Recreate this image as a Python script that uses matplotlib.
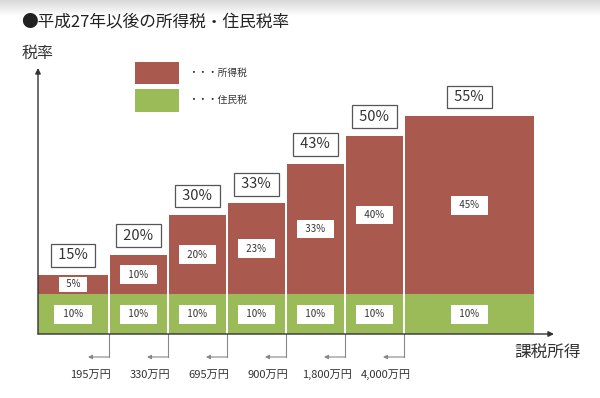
import matplotlib
matplotlib.use('Agg')
import matplotlib.pyplot as plt
from matplotlib.patches import Rectangle
import numpy as np

plt.rcParams['font.family'] = ['Noto Sans CJK JP', 'DejaVu Sans']

# ---- data ----
title = "●平成27年以後の所得税・住民税率"
y_label = "税率"
x_label = "課税所得"
series_names = ["所得税", "住民税"]
income_limits = ["195万円", "330万円", "695万円", "900万円", "1,800万円", "4,000万円"]
income_tax = [5, 10, 20, 23, 33, 40, 45]
resident_tax = [10, 10, 10, 10, 10, 10, 10]

RED = '#A9594D'
GREEN = '#9BBB59'
TXT = '#333333'

W, H = 600, 398
fig = plt.figure(figsize=(6, 3.98), dpi=100)


def fx(px):
    return px / W


def fy(py):
    return 1 - py / H


# header gradient
gax = fig.add_axes([0, fy(16), 1, 16 / H])
grad = np.linspace(0.85, 1.0, 64).reshape(-1, 1)
gax.imshow(np.dstack([grad] * 3), aspect='auto', extent=[0, 1, 0, 1], origin='upper')
gax.axis('off')

# main axes
unit_px = 59.0
pct_px = 3.965
ax = fig.add_axes([fx(38), fy(334), (554 - 38) / W, (334 - 68) / H])
ax.set_xlim(0, (554 - 38) / unit_px)
ax.set_ylim(0, (334 - 68) / pct_px)
ax.axis('off')

widths = np.array([1.22, 1, 1, 1, 1, 1, 2.22])
lefts = np.concatenate([[0], np.cumsum(widths)[:-1]])
gap = 0.035
centers = lefts + (widths - gap) / 2

ax.bar(lefts, resident_tax, width=widths - gap, align='edge', color=GREEN, lw=0)
ax.bar(lefts, income_tax, bottom=resident_tax, width=widths - gap, align='edge', color=RED, lw=0)

# axes arrows
arr = dict(arrowstyle='-|>', color='#333333', lw=1.0, mutation_scale=8, shrinkA=0, shrinkB=0)
ax.annotate('', xy=(0, 1), xytext=(0, 0), xycoords='axes fraction', arrowprops=arr, annotation_clip=False)
ax.annotate('', xy=(1, 0), xytext=(0, 0), xycoords='axes fraction', arrowprops=arr, annotation_clip=False)

# labels in and above bars
for c, inc, res in zip(centers, income_tax, resident_tax):
    total = inc + res
    ax.annotate(f" {total}% ", xy=(c, total), xytext=(0, 13.7), textcoords='offset points',
                ha='center', va='center', fontsize=10.5, color=TXT,
                bbox=dict(boxstyle='square,pad=0.3', fc='white', ec='#555555', lw=0.9))
    ax.text(c, res / 2, f"  {res}%  ", ha='center', va='center', fontsize=7, color=TXT,
            bbox=dict(boxstyle='square,pad=0.45', fc='white', ec='none'))
    pad = 0.3 if inc < 8 else 0.45
    ax.text(c, res + inc / 2, f"  {inc}%  ", ha='center', va='center', fontsize=7, color=TXT,
            bbox=dict(boxstyle=f'square,pad={pad}', fc='white', ec='none'))

# income thresholds below the axis
drop = -23 / pct_px
for b, lab in zip(lefts[1:] - gap / 2, income_limits):
    ax.plot([b, b], [0, drop], color='#888888', lw=0.8, clip_on=False)
    ax.annotate('', xy=(b - 21 / unit_px, drop), xytext=(b, drop),
                arrowprops=dict(arrowstyle='-|>', color='#888888', lw=0.8, mutation_scale=6,
                                shrinkA=0, shrinkB=0), annotation_clip=False)
    ax.text(b - 18 / unit_px, -41 / pct_px, lab, ha='center', va='center', fontsize=8,
            color=TXT, clip_on=False)

# legend
fig.patches.append(Rectangle((fx(135), fy(84)), 44 / W, 22 / H, transform=fig.transFigure,
                             color=RED, lw=0))
fig.patches.append(Rectangle((fx(135), fy(112)), 44 / W, 23 / H, transform=fig.transFigure,
                             color=GREEN, lw=0))
fig.text(fx(188), fy(73), "・・・" + series_names[0], fontsize=7, va='center', color=TXT)
fig.text(fx(188), fy(100), "・・・" + series_names[1], fontsize=7, va='center', color=TXT)

# titles
fig.text(fx(21), fy(22), title, fontsize=12, va='center', color='#222222')
fig.text(fx(22), fy(53), y_label, fontsize=11.5, va='center', color=TXT)
fig.text(fx(514), fy(353), x_label, fontsize=12, va='center', color=TXT)

fig.savefig('out.png', dpi=100)
